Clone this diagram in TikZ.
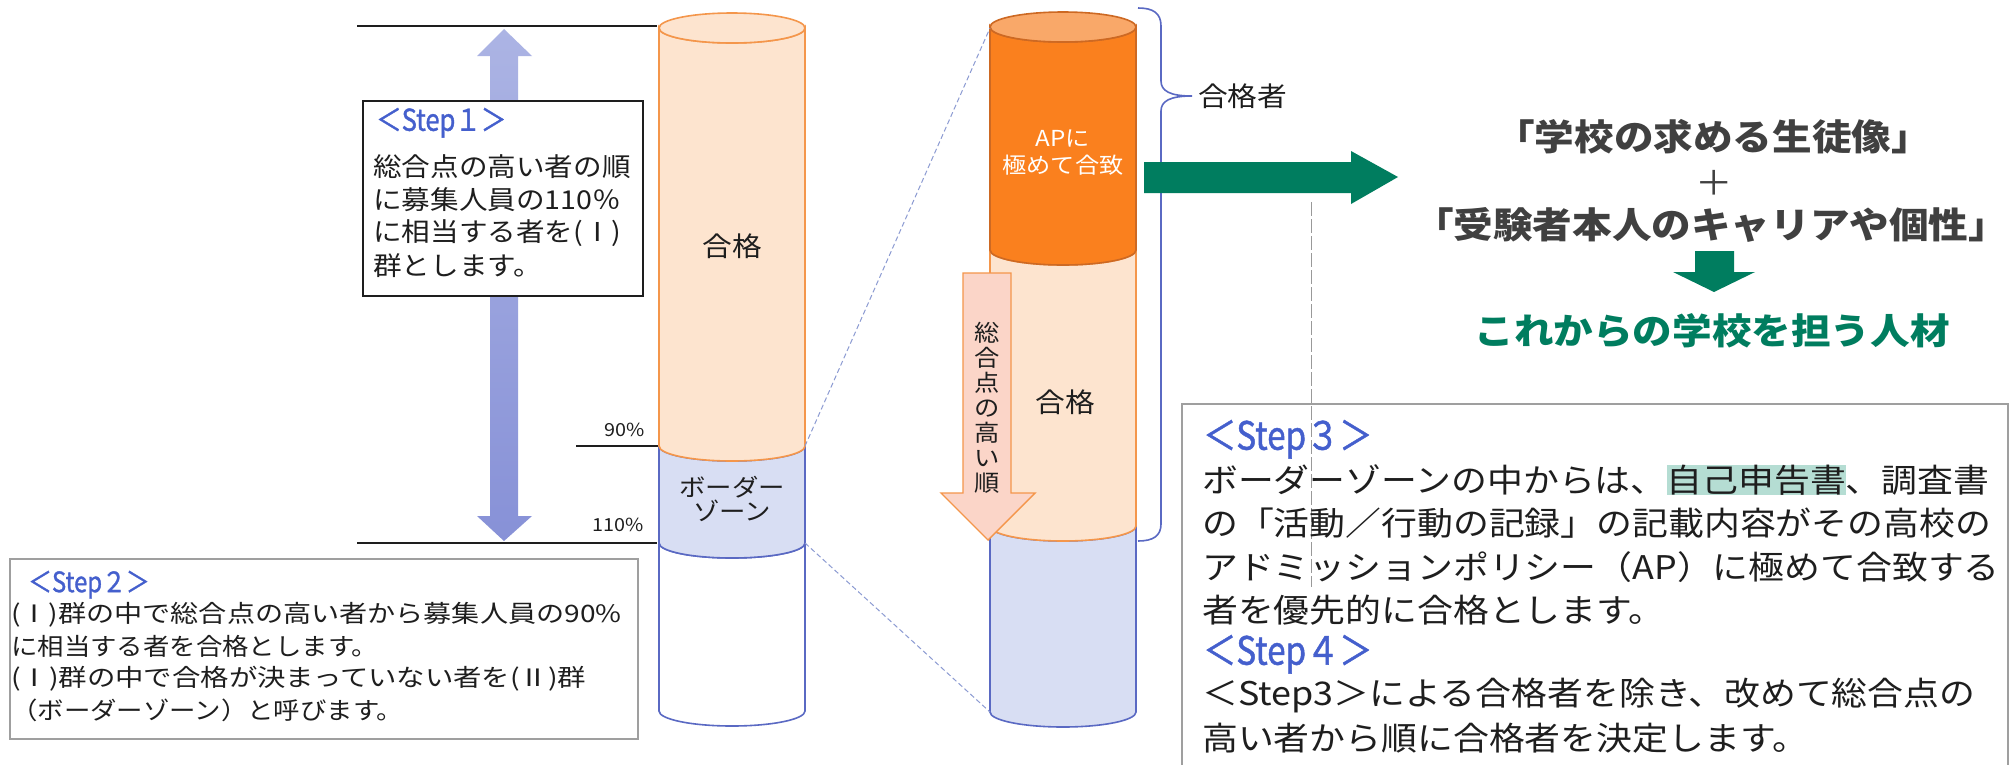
\documentclass[tikz,border=0pt]{standalone}
\usepackage{fontspec}
\usepackage{graphicx}
\setmainfont{Noto Sans CJK JP}[FakeStretch=1.1]
\newfontfamily\condfont{Noto Sans CJK JP}[FakeStretch=0.85, FakeBold=1.2]
\usepackage{xcolor}
\definecolor{peach}{RGB}{253,228,207}
\definecolor{orline}{RGB}{244,150,75}
\definecolor{darkor}{RGB}{250,128,30}
\definecolor{darkorline}{RGB}{205,105,35}
\definecolor{topor}{RGB}{249,168,105}
\definecolor{lav}{RGB}{216,222,243}
\definecolor{blueline}{RGB}{90,105,195}
\definecolor{stepblue}{RGB}{68,95,205}
\definecolor{grn}{RGB}{0,125,95}
\definecolor{txt}{RGB}{30,30,30}
\definecolor{ttl}{RGB}{64,64,64}
\definecolor{hl}{RGB}{181,221,211}
\definecolor{dashc}{RGB}{140,155,210}
\definecolor{arrtop}{RGB}{172,180,228}
\definecolor{arrbot}{RGB}{135,145,215}
\definecolor{pinkfill}{RGB}{251,213,200}
\newcommand\fsz[2]{\fontsize{#1pt}{#2pt}\selectfont}
\newcommand\cs{\rule[-0.12em]{0pt}{1em}}
\newcommand\cylseg[5]{%
  \pgfmathsetmacro\cxc{(#1+#2)/2}%
  \pgfmathsetmacro\cxa{#1+(#2-#1)/2*0.4477}%
  \pgfmathsetmacro\cxb{#2-(#2-#1)/2*0.4477}%
  \draw[#5] (#1,#3) -- (#1,#4) .. controls (#1,#4+8.3) and (\cxa,#4+15) .. (\cxc,#4+15) .. controls (\cxb,#4+15) and (#2,#4+8.3) .. (#2,#4) -- (#2,#3) .. controls (#2,#3+8.3) and (\cxb,#3+15) .. (\cxc,#3+15) .. controls (\cxa,#3+15) and (#1,#3+8.3) .. (#1,#3) -- cycle;}
\tikzset{
  lbl/.style={inner sep=0pt, text=txt},
  guide/.style={draw=txt, line width=1.5pt},
  cyl/.style={line width=1.6pt},
  stepl/.style={inner sep=0pt, anchor=west, text=stepblue},
  boxtxt/.style={inner sep=0pt, anchor=west, text=txt},
  ttlt/.style={inner sep=0pt, text=ttl, font=\fsz{36}{40}\bfseries},
}
\begin{document}
\begin{tikzpicture}[x=1pt,y=-1pt]
\useasboundingbox (0,0) rectangle (2013,764);
\fill[white] (0,0) rectangle (2013,764);

% guide lines
\coordinate (gTopL) at (357,26);
\coordinate (gTopR) at (657,26);
\coordinate (g110L) at (357,543);
\coordinate (g110R) at (657,543);
\coordinate (g90L) at (576,446);
\coordinate (g90R) at (659,446);
\draw[guide] (gTopL) -- (gTopR);
\draw[guide] (g110L) -- (g110R);
\draw[guide] (g90L) -- (g90R);

% double arrow
\shade[top color=arrtop, bottom color=arrbot] (504,29) -- (532,56) -- (518,56) -- (518,516) -- (532,516) -- (504,541) -- (477,516) -- (490,516) -- (490,56) -- (477,56) -- cycle;

% step1 box
\draw[draw=txt, line width=1.5pt, fill=white] (363,101) rectangle (643,296);
\node[stepl] (s1lab) at (376,121) {\condfont\fsz{30}{32}\cs ＜Step１＞};
\node[boxtxt] (s1a) at (373,167) {\fsz{26}{30}\cs 総合点の高い者の順};
\node[boxtxt] (s1b) at (373,200) {\fsz{26}{30}\cs に募集人員の110％};
\node[boxtxt] (s1c) at (373,233) {\fsz{26}{30}\cs に相当する者を(Ⅰ)};
\node[boxtxt] (s1d) at (373,266) {\fsz{26}{30}\cs 群とします。};

% left cylinder
\cylseg{659}{805}{543}{711}{cyl,fill=white,draw=blueline}
\cylseg{659}{805}{446}{543}{cyl,fill=lav,draw=blueline}
\cylseg{659}{805}{28}{446}{cyl,fill=peach,draw=orline}
\draw[cyl,fill=peach,draw=orline] (732,28) ellipse [x radius=73, y radius=15];
\node[lbl] (gk1) at (732,246) {\fsz{27}{30}\cs 合格};
\node[lbl, align=center, font=\fsz{24}{24}] (bz) at (732,499) {ボーダー\\ゾーン};
\node[lbl, anchor=east] (p90) at (645,430) {\fsz{18}{20}90\%};
\node[lbl, anchor=east] (p110) at (644,525) {\fsz{18}{20}110\%};

% step2 box
\draw[draw=gray!75, line width=1.5pt, fill=white] (10,559) rectangle (638,739);
\node[stepl] (s2lab) at (28,583) {\condfont\fsz{28}{30}\cs ＜Step２＞};
\node[boxtxt] (s2a) at (11,614) {\fsz{24}{28}\cs \scalebox{1.065}[1]{(Ⅰ)群の中で総合点の高い者から募集人員の90\%}};
\node[boxtxt] (s2b) at (11,646) {\fsz{24}{28}\cs に相当する者を合格とします。};
\node[boxtxt] (s2c) at (11,678) {\fsz{24}{28}\cs \scalebox{1.075}[1]{(Ⅰ)群の中で合格が決まっていない者を(Ⅱ)群}};
\node[boxtxt] (s2d) at (11,710) {\fsz{24}{28}\cs （ボーダーゾーン）と呼びます。};

% middle cylinder
\cylseg{990}{1136}{526}{712}{cyl,fill=lav,draw=blueline}
\cylseg{990}{1136}{250}{526}{cyl,fill=peach,draw=orline}
\cylseg{990}{1136}{27}{250}{cyl,fill=darkor,draw=darkorline}
\draw[cyl,fill=topor,draw=darkorline] (1063,27) ellipse [x radius=73, y radius=15];
\node[lbl, text=white, align=center, font=\fsz{22}{27}] (ap) at (1063,153) {APに\\極めて合致};
\node[lbl] (gk2) at (1065,402) {\fsz{27}{30}\cs 合格};

% zoom dashed lines
\coordinate (L90) at (805,446);
\coordinate (L110) at (805,543);
\coordinate (Mtop) at (990,28);
\coordinate (Mbot) at (990,712);
\draw[dashc, line width=1pt, dash pattern=on 5pt off 3pt] (L90) -- (Mtop);
\draw[dashc, line width=1pt, dash pattern=on 5pt off 3pt] (L110) -- (Mbot);

% pink down arrow
\draw[fill=pinkfill, draw=orline, line width=1.4pt] (963,273) -- (1011,273) -- (1011,493) -- (1035,493) -- (988,540) -- (941,493) -- (963,493) -- cycle;
\node[lbl, align=center, font=\fsz{23}{25}] (vt) at (987,408) {総\\合\\点\\の\\高\\い\\順};

% brace
\coordinate (brA) at (1138,8);
\coordinate (brTip) at (1192,96);
\coordinate (brB) at (1138,541);
\draw[blueline, line width=1.6pt] (brA) .. controls (1153,8) and (1161,13) .. (1161,26) -- (1161,81) .. controls (1161,91) and (1170,96) .. (brTip) .. controls (1170,96) and (1161,101) .. (1161,111) -- (1161,524) .. controls (1161,536) and (1153,541) .. (brB);
\node[lbl, anchor=west] (gks) at (1198,96) {\fsz{27}{30}\cs 合格者};

% green right arrow
\fill[grn] (1144,162) -- (1351,162) -- (1351,151) -- (1398,177) -- (1351,204) -- (1351,193) -- (1144,193) -- cycle;

% faint dashed vertical line
\draw[gray!80, line width=0.8pt, dash pattern=on 14pt off 3pt] (1311,202) -- (1311,587);

% titles
\node[ttlt] (t1) at (1713,137) {\cs 「学校の求める生徒像」};
\node[lbl, text=ttl] (plus) at (1714,183) {\fsz{34}{36}\cs ＋};
\node[ttlt] (t2) at (1711,225) {\cs 「受験者本人のキャリアや個性」};
\fill[grn] (1695,251) -- (1734,251) -- (1734,272) -- (1755,272) -- (1714,292) -- (1673,272) -- (1695,272) -- cycle;
\node[ttlt, text=grn] (t3) at (1712,331) {\cs これからの学校を担う人材};

% step3 box
\draw[draw=gray!75, line width=1.5pt] (1182,770) -- (1182,404) -- (2008,404) -- (2008,770);
\node[stepl] (s3lab) at (1203,437) {\condfont\fsz{39}{40}\cs ＜Step３＞};
\node[boxtxt] (s3a) at (1202,480) {\fsz{32.6}{40}\cs ボーダーゾーンの中からは、{\setlength{\fboxsep}{0pt}\colorbox{hl}{自己申告書}}、調査書};
\node[boxtxt] (s3b) at (1202,523) {\fsz{32.6}{40}\cs の「活動／行動の記録」の記載内容がその高校の};
\node[boxtxt] (s3c) at (1202,567) {\fsz{32.6}{40}\cs アドミッションポリシー（AP）に極めて合致する};
\node[boxtxt] (s3d) at (1202,610) {\fsz{32.6}{40}\cs 者を優先的に合格とします。};
\node[stepl] (s4lab) at (1203,652) {\condfont\fsz{39}{40}\cs ＜Step４＞};
\node[boxtxt] (s4a) at (1202,695) {\fsz{32.6}{40}\cs ＜Step3＞による合格者を除き、改めて総合点の};
\node[boxtxt] (s4b) at (1202,738) {\fsz{32.6}{40}\cs 高い者から順に合格者を決定します。};
\end{tikzpicture}
\end{document}
